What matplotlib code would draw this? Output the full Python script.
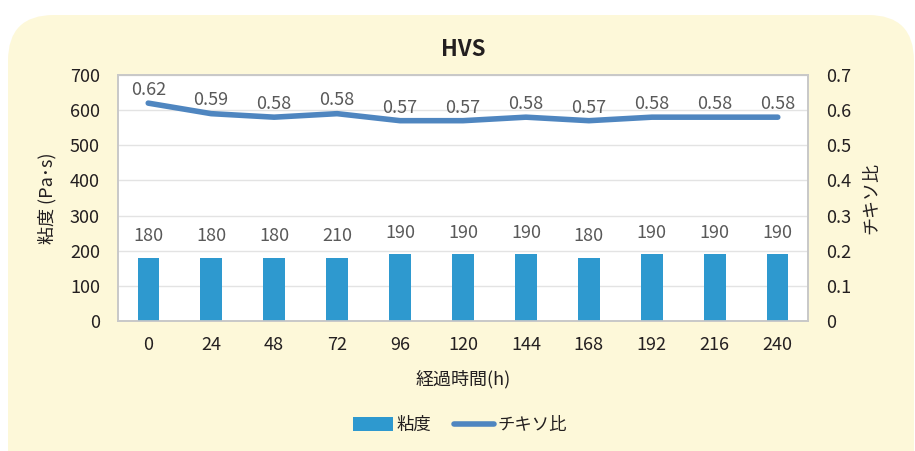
import matplotlib
matplotlib.use("Agg")
import matplotlib.pyplot as plt
from matplotlib.patches import FancyBboxPatch
from matplotlib.lines import Line2D
from matplotlib.patches import Patch

plt.rcParams['font.family'] = ['Noto Sans CJK JP', 'DejaVu Sans']

hours = ["0", "24", "48", "72", "96", "120", "144", "168", "192", "216", "240"]
viscosity = [180, 180, 180, 180, 190, 190, 190, 180, 190, 190, 190]
viscosity_labels = ["180", "180", "180", "210", "190", "190", "190", "180", "190", "190", "190"]
thixo = [0.62, 0.59, 0.58, 0.59, 0.57, 0.57, 0.58, 0.57, 0.58, 0.58, 0.58]
thixo_labels = ["0.62", "0.59", "0.58", "0.58", "0.57", "0.57", "0.58", "0.57", "0.58", "0.58", "0.58"]

W, H = 915, 451
fig = plt.figure(figsize=(W / 100, H / 100), dpi=100)
fig.patch.set_facecolor('white')

bg = FancyBboxPatch((8 / W, -0.2), (914 - 8) / W, (451 - 15) / H + 0.2,
                    boxstyle="round,pad=0,rounding_size=0.05",
                    transform=fig.transFigure, facecolor='#fdf8d9', edgecolor='none',
                    mutation_aspect=W / H, zorder=-10)
fig.patches.append(bg)

ax = fig.add_axes([118 / W, 1 - 321 / H, (808 - 118) / W, (321 - 75) / H])
ax.set_facecolor('white')
ax2 = ax.twinx()

x = list(range(len(hours)))
bar_color = '#2e99cf'
line_color = '#4f86c0'
ax.bar(x, viscosity, width=0.34, color=bar_color, zorder=3)
ax2.plot(x, thixo, color=line_color, lw=4, solid_capstyle='round', solid_joinstyle='round', zorder=4)

for xi, v, lab in zip(x, viscosity, viscosity_labels):
    ax.annotate(lab, (xi, v), xytext=(0, 9), textcoords='offset points', ha='center', va='bottom',
                fontsize=13, color='#595959')
for xi, v, lab in zip(x, thixo, thixo_labels):
    ax2.annotate(lab, (xi, v), xytext=(0, 3), textcoords='offset points', ha='center', va='bottom',
                 fontsize=13, color='#595959')

ax.set_xlim(-0.48, len(hours) - 0.52)
ax.set_ylim(0, 700)
ax2.set_ylim(0, 0.7)
ax.set_yticks(range(0, 701, 100))
ax2.set_yticks([0, 0.1, 0.2, 0.3, 0.4, 0.5, 0.6, 0.7])
ax2.set_yticklabels(["0", "0.1", "0.2", "0.3", "0.4", "0.5", "0.6", "0.7"])
ax.set_xticks(x)
ax.set_xticklabels(hours)
ax.grid(axis='y', color='#e3e3e3', lw=1, zorder=0)
ax.set_axisbelow(True)

for a in (ax, ax2):
    a.tick_params(length=0, labelsize=13, colors='#231f20')
    for s in a.spines.values():
        s.set_color('#c8c8c8')
        s.set_linewidth(1.2)
ax.tick_params(axis='x', pad=11)
ax.tick_params(axis='y', pad=13)
ax2.tick_params(axis='y', pad=13)

ax.set_xlabel("経過時間(h)", fontsize=13, color='#231f20', labelpad=11)
ax.set_ylabel("粘度 (Pa･s)", fontsize=13, color='#231f20', labelpad=10)
ax2.set_ylabel("チキソ比", fontsize=13, color='#231f20', labelpad=8)

fig.text(463 / W, 1 - 50 / H, "HVS", ha='center', va='center', fontsize=16, fontweight='bold', color='#231f20')

handles = [Patch(facecolor=bar_color, edgecolor='none'),
           Line2D([0], [0], color=line_color, lw=4, solid_capstyle='round')]
fig.legend(handles, ["粘度", "チキソ比"], loc='center', bbox_to_anchor=(460 / W, 1 - 425 / H),
           ncol=2, frameon=False, fontsize=12.5, handlelength=2.3, handleheight=0.8,
           columnspacing=1.3, handletextpad=0.2, labelcolor='#231f20')

fig.savefig("out.png", dpi=100, facecolor='white')
